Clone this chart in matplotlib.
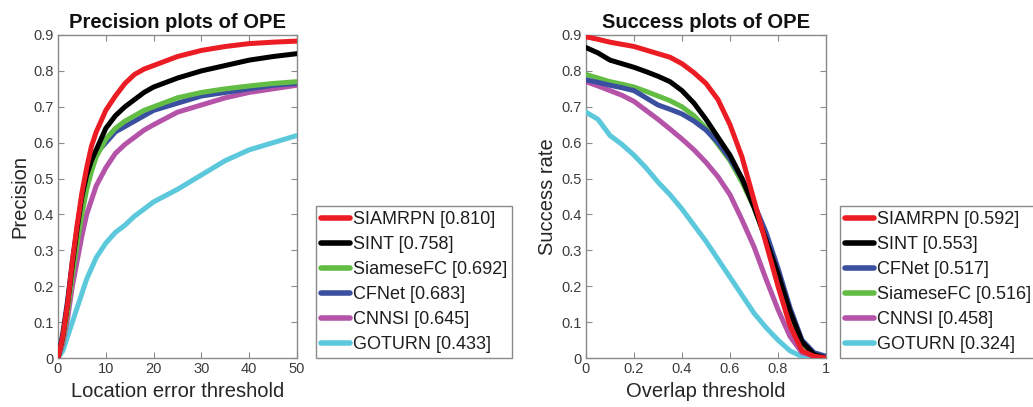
import numpy as np
import matplotlib.pyplot as plt

plt.rcParams['font.family'] = ['Liberation Sans', 'DejaVu Sans']

fig = plt.figure(figsize=(10.33, 4.07), dpi=100)

colors = ['#ec1c24', '#000000', '#63bd45', '#3a4fa0', '#b453a8', '#5cc8dc']

# ---- precision plot data (location error threshold 0..50)
prec_names = ['SIAMRPN [0.810]', 'SINT [0.758]', 'SiameseFC [0.692]',
              'CFNet [0.683]', 'CNNSI [0.645]', 'GOTURN [0.433]']
prec_x = [0, 1, 2, 3, 4, 5, 6, 7, 8, 10, 12, 14, 16, 18, 20, 25, 30, 35, 40, 45, 50]
prec_siamrpn = [0.0, 0.06, 0.15, 0.27, 0.37, 0.46, 0.53, 0.59, 0.63, 0.69, 0.73, 0.765,
                0.79, 0.805, 0.815, 0.84, 0.857, 0.868, 0.876, 0.88, 0.883]
prec_sint = [0.0, 0.06, 0.15, 0.26, 0.36, 0.45, 0.51, 0.55, 0.58, 0.64, 0.675, 0.70,
             0.72, 0.74, 0.755, 0.78, 0.80, 0.815, 0.83, 0.84, 0.848]
prec_siamesefc = [0.0, 0.05, 0.13, 0.23, 0.32, 0.40, 0.47, 0.52, 0.56, 0.61, 0.64, 0.66,
                  0.675, 0.69, 0.70, 0.725, 0.74, 0.75, 0.758, 0.765, 0.77]
prec_cfnet = [0.0, 0.07, 0.16, 0.27, 0.36, 0.44, 0.50, 0.54, 0.57, 0.60, 0.63, 0.645,
              0.66, 0.675, 0.69, 0.71, 0.73, 0.74, 0.75, 0.76, 0.765]
prec_cnnsi = [0.0, 0.04, 0.11, 0.20, 0.27, 0.34, 0.40, 0.44, 0.48, 0.53, 0.57, 0.595,
              0.615, 0.635, 0.65, 0.685, 0.705, 0.725, 0.74, 0.75, 0.76]
prec_goturn = [0.0, 0.02, 0.06, 0.10, 0.14, 0.18, 0.22, 0.25, 0.28, 0.32, 0.35, 0.37,
               0.395, 0.415, 0.435, 0.47, 0.51, 0.55, 0.58, 0.60, 0.62]

# ---- success plot data (overlap threshold 0..1)
succ_names = ['SIAMRPN [0.592]', 'SINT [0.553]', 'CFNet [0.517]',
              'SiameseFC [0.516]', 'CNNSI [0.458]', 'GOTURN [0.324]']
succ_x = [0, 0.05, 0.1, 0.15, 0.2, 0.25, 0.3, 0.35, 0.4, 0.45, 0.5, 0.55, 0.6,
          0.65, 0.7, 0.75, 0.8, 0.85, 0.9, 0.95, 1.0]
succ_siamrpn = [0.895, 0.888, 0.88, 0.874, 0.868, 0.858, 0.848, 0.838, 0.82, 0.795, 0.765,
                0.72, 0.65, 0.56, 0.44, 0.32, 0.20, 0.09, 0.02, 0.005, 0.0]
succ_sint = [0.865, 0.85, 0.83, 0.82, 0.81, 0.798, 0.785, 0.77, 0.745, 0.71, 0.665,
             0.615, 0.565, 0.50, 0.42, 0.33, 0.235, 0.13, 0.045, 0.01, 0.0]
succ_cfnet = [0.775, 0.768, 0.76, 0.753, 0.745, 0.725, 0.705, 0.693, 0.68, 0.66, 0.635,
              0.60, 0.555, 0.50, 0.43, 0.35, 0.25, 0.14, 0.05, 0.015, 0.005]
succ_siamesefc = [0.79, 0.78, 0.77, 0.763, 0.755, 0.743, 0.73, 0.717, 0.70, 0.675, 0.64,
                  0.595, 0.55, 0.49, 0.42, 0.33, 0.23, 0.12, 0.04, 0.01, 0.0]
succ_cnnsi = [0.77, 0.758, 0.745, 0.732, 0.715, 0.69, 0.665, 0.638, 0.61, 0.58, 0.545,
              0.505, 0.455, 0.385, 0.31, 0.22, 0.135, 0.06, 0.015, 0.005, 0.0]
succ_goturn = [0.685, 0.665, 0.62, 0.595, 0.565, 0.53, 0.49, 0.455, 0.415, 0.37, 0.325,
               0.275, 0.225, 0.175, 0.125, 0.085, 0.05, 0.02, 0.004, 0.002, 0.0]

prec_series = [prec_siamrpn, prec_sint, prec_siamesefc, prec_cfnet, prec_cnnsi, prec_goturn]
prec_colors = [colors[0], colors[1], colors[2], colors[3], colors[4], colors[5]]
succ_series = [succ_siamrpn, succ_sint, succ_cfnet, succ_siamesefc, succ_cnnsi, succ_goturn]
succ_colors = [colors[0], colors[1], colors[3], colors[2], colors[4], colors[5]]

tick_col = '#3c3c3c'
edge_col = '#8a8a8a'


def style_axes(ax, xlim, xticks, xticklabels, xlabel, ylabel, title):
    ax.set_xlim(xlim)
    ax.set_ylim(0, 0.9)
    ax.set_xticks(xticks)
    ax.set_xticklabels(xticklabels)
    ax.set_yticks([0, 0.1, 0.2, 0.3, 0.4, 0.5, 0.6, 0.7, 0.8, 0.9])
    ax.set_yticklabels(['0', '0.1', '0.2', '0.3', '0.4', '0.5', '0.6', '0.7', '0.8', '0.9'])
    ax.tick_params(direction='in', top=True, right=True, length=4, width=0.8,
                   color=edge_col, labelcolor=tick_col, labelsize=10.5, pad=3)
    for s in ax.spines.values():
        s.set_color(edge_col)
        s.set_linewidth(1.0)
    ax.set_xlabel(xlabel, fontsize=14.5, color='#262626', labelpad=4)
    ax.set_ylabel(ylabel, fontsize=14.5, color='#262626', labelpad=3)
    ax.set_title(title, fontsize=14.5, fontweight='bold', color='#111111', pad=5)


def add_legend(ax, names, x0):
    leg = ax.legend(names, loc='lower left', bbox_to_anchor=(x0, 49 / 407),
                    bbox_transform=fig.transFigure, borderaxespad=0,
                    fontsize=13, handlelength=1.65, handletextpad=0.15,
                    labelspacing=0.45, borderpad=0.25, fancybox=False,
                    framealpha=1, edgecolor=edge_col)
    leg.get_frame().set_linewidth(1.0)
    for t in leg.get_texts():
        t.set_color('#1e1e1e')
    for h in leg.get_lines():
        h.set_linewidth(4)


ax1 = fig.add_axes([58 / 1033, 49 / 407, 239 / 1033, 323 / 407])
for i in range(len(prec_series)):
    ax1.plot(prec_x, prec_series[i], color=prec_colors[i], lw=3.6,
             solid_capstyle='round', zorder=10 - i)
style_axes(ax1, (0, 50), [0, 10, 20, 30, 40, 50], ['0', '10', '20', '30', '40', '50'],
           'Location error threshold', 'Precision', 'Precision plots of OPE')
add_legend(ax1, prec_names, 316 / 1033)

ax2 = fig.add_axes([586 / 1033, 49 / 407, 240 / 1033, 323 / 407])
for i in range(len(succ_series)):
    ax2.plot(succ_x, succ_series[i], color=succ_colors[i], lw=3.6,
             solid_capstyle='round', zorder=10 - i)
style_axes(ax2, (0, 1), [0, 0.2, 0.4, 0.6, 0.8, 1.0], ['0', '0.2', '0.4', '0.6', '0.8', '1'],
           'Overlap threshold', 'Success rate', 'Success plots of OPE')
add_legend(ax2, succ_names, 840 / 1033)

fig.savefig('out.png', dpi=100)
